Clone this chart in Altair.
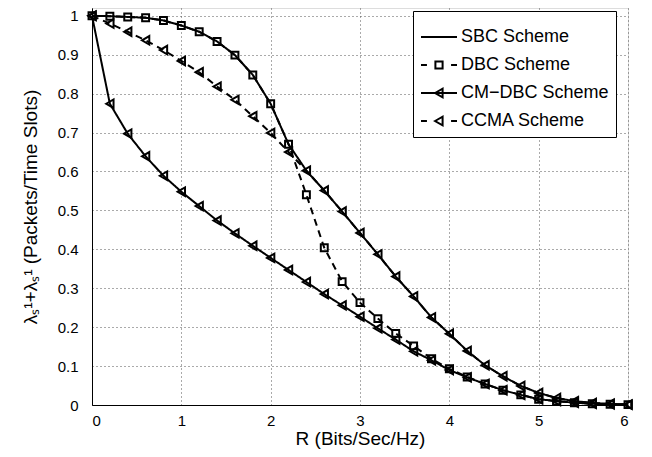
import altair as alt
import pandas as pd

R = [0.0, 0.2, 0.4, 0.6, 0.8, 1.0, 1.2, 1.4, 1.6, 1.8, 2.0, 2.2, 2.4, 2.6, 2.8, 3.0,
     3.2, 3.4, 3.6, 3.8, 4.0, 4.2, 4.4, 4.6, 4.8, 5.0, 5.2, 5.4, 5.6, 5.8, 6.0]

sbc = [1.000, 0.999, 0.997, 0.995, 0.988, 0.975, 0.959, 0.934, 0.899, 0.848, 0.774,
       0.670, 0.602, 0.551, 0.497, 0.442, 0.387, 0.330, 0.279, 0.225, 0.183, 0.139,
       0.102, 0.074, 0.049, 0.031, 0.018, 0.010, 0.005, 0.003, 0.001]

dbc = [1.000, 0.999, 0.997, 0.995, 0.988, 0.975, 0.959, 0.934, 0.899, 0.848, 0.774,
       0.670, 0.540, 0.404, 0.317, 0.263, 0.222, 0.184, 0.152, 0.119, 0.093, 0.072,
       0.054, 0.038, 0.026, 0.015, 0.010, 0.006, 0.003, 0.002, 0.001]

cmdbc = [1.000, 0.774, 0.697, 0.639, 0.589, 0.548, 0.511, 0.474, 0.441, 0.409, 0.378,
         0.347, 0.316, 0.285, 0.256, 0.227, 0.197, 0.168, 0.138, 0.115, 0.090, 0.071,
         0.054, 0.038, 0.026, 0.015, 0.010, 0.006, 0.003, 0.002, 0.001]

ccma = [1.000, 0.980, 0.959, 0.937, 0.912, 0.884, 0.855, 0.818, 0.784, 0.742, 0.699,
        0.650, 0.602, 0.551, 0.497, 0.442, 0.387, 0.330, 0.279, 0.225, 0.183, 0.139,
        0.102, 0.074, 0.049, 0.031, 0.018, 0.010, 0.005, 0.003, 0.001]

names = ["SBC Scheme", "DBC Scheme", "CM\u2212DBC Scheme", "CCMA Scheme"]
dash_styles = ["solid", "dashed", "solid", "dashed"]
series_values = [sbc, dbc, cmdbc, ccma]

x_ticks = [0, 1, 2, 3, 4, 5, 6]
y_ticks = [0.0, 0.1, 0.2, 0.3, 0.4, 0.5, 0.6, 0.7, 0.8, 0.9, 1.0]

rows = []
for name, dash, vals in zip(names, dash_styles, series_values):
    for r, v in zip(R, vals):
        rows.append({"series": name, "entry": name, "dash": dash, "R": r, "value": v})
df = pd.DataFrame(rows)

FONT = "Liberation Sans"

legend_paths = [
    "M-1,0H1",
    "M-1,0H-0.67M-0.2,-0.2H0.2V0.2H-0.2ZM0.67,0H1",
    "M-1,0H1M-0.22,0L0.2,-0.24L0.2,0.24Z",
    "M-1,0H-0.67M-0.22,0L0.2,-0.24L0.2,0.24ZM0.67,0H1",
]

x_enc = alt.X("R:Q", scale=alt.Scale(domain=[0, 6], nice=False, zero=False),
              axis=alt.Axis(values=x_ticks, format="d", title="R (Bits/Sec/Hz)",
                            labelFontSize=15, titleFontSize=19, labelPadding=8,
                            titlePadding=1, ticks=False, tickSize=0,
                            labelFont=FONT, titleFont=FONT,
                            domainColor="black", labelColor="black", titleColor="black",
                            titleFontWeight="normal", gridDash=[1, 3], gridColor="#555"))
y_enc = alt.Y("value:Q", scale=alt.Scale(domain=[0, 1.02], nice=False),
              axis=alt.Axis(values=y_ticks, format=".1~f",
                            title="\u03bb\u209b\u00b9+\u03bb\u209b\u00b9 (Packets/Time Slots)",
                            labelFontSize=15, titleFontSize=19, labelPadding=14,
                            titlePadding=17, ticks=False, tickSize=0,
                            labelFont=FONT, titleFont=FONT, labelOverlap=False,
                            domainColor="black", labelColor="black", titleColor="black",
                            titleFontWeight="normal", gridDash=[1, 3], gridColor="#555"))

lines = alt.Chart(df).mark_line(color="black", strokeWidth=2).encode(
    x=x_enc, y=y_enc,
    detail="series:N",
    strokeDash=alt.StrokeDash("dash:N",
                              scale=alt.Scale(range=[[7, 5], [1, 0]]),
                              legend=None),
    order="R:Q",
)

squares = alt.Chart(df).transform_filter(
    alt.datum.series == "DBC Scheme"
).mark_point(shape="square", size=48, filled=False, color="black", strokeWidth=2,
             opacity=1).encode(x=x_enc, y=y_enc)

triangles = alt.Chart(df).transform_filter(
    alt.FieldOneOfPredicate(field="series", oneOf=[names[2], names[3]])
).mark_point(shape="triangle-left", size=72, filled=False, color="black", strokeWidth=2,
             opacity=1).encode(x=x_enc, y=y_enc)

legend_layer = alt.Chart(df).transform_filter(
    alt.datum.value > 5
).mark_point(filled=False, color="black", opacity=1).encode(
    x=x_enc, y=y_enc,
    shape=alt.Shape("entry:N",
                    scale=alt.Scale(domain=names, range=legend_paths),
                    legend=alt.Legend(title=None, orient="none", legendX=321, legendY=3,
                                      symbolSize=1296, symbolStrokeWidth=2,
                                      symbolStrokeColor="black", symbolFillColor="white",
                                      symbolOpacity=1, labelFont=FONT, labelFontSize=18,
                                      labelColor="black", labelOffset=3, padding=7,
                                      rowPadding=-7, strokeColor="black", fillColor="white",
                                      cornerRadius=0)),
)

chart = alt.layer(lines, squares, triangles, legend_layer).properties(
    width=536, height=397,
    autosize=alt.AutoSizeParams(type="none"),
    padding={"left": 84, "top": 0, "right": 16, "bottom": 44},
).configure_view(
    stroke="black", strokeWidth=1
).configure_axis(
    labelFont=FONT, titleFont=FONT, gridOpacity=1, gridWidth=1,
).configure(background="white")

chart.save("out.html", embed_options={"renderer": "svg", "actions": False})
